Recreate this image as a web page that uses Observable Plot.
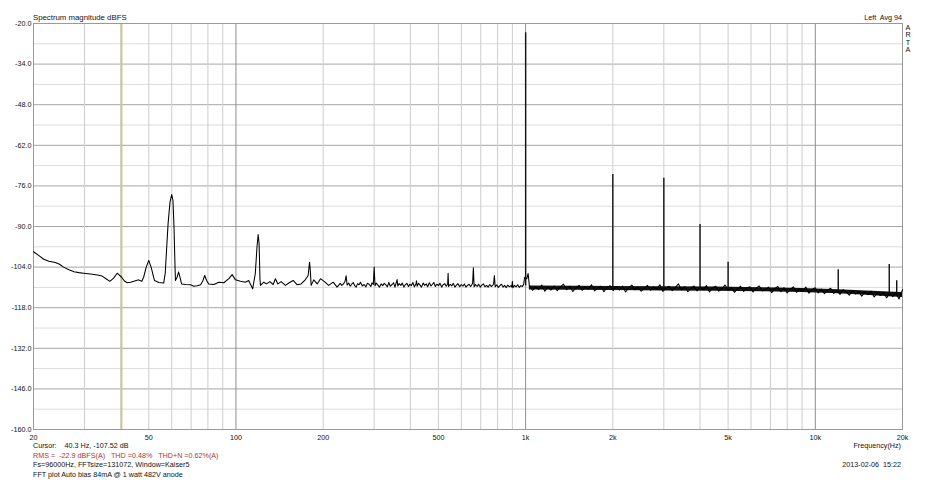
<!DOCTYPE html>
<html>
<head>
<meta charset="utf-8">
<script src="https://cdn.jsdelivr.net/npm/d3@7"></script>
<script src="https://cdn.jsdelivr.net/npm/@observablehq/plot@0.6"></script>
<style>
  html, body { margin: 0; padding: 0; background: #fff; }
  #chart svg { display: block; }
</style>
</head>
<body>
<div id="chart"></div>
<script>
// ---- Data ----
const lowFreq = [20, 21.0, 21.7, 22.6, 23.8, 24.6, 25.4, 26.5, 27.6, 28.7, 29.8, 31.5, 33.2, 34.5, 35.6, 36.7, 37.8, 38.9, 40.3, 41.2,
  42.1, 43.3, 44.4, 45.3, 46.1, 47.3, 48.0, 49.0, 50.0, 51.0, 52.3, 54.2, 56.3, 57.0, 57.6, 58.3, 59.2, 60.0, 60.6, 61.1,
  61.5, 61.8, 62.6, 63.4, 64.2, 64.9, 67.0, 69.7, 71.5, 73.5, 75.5, 76.8, 78.0, 79.2, 80.5, 83.9, 87.3, 90.8, 94.5, 97.0,
  99.6, 103.6, 107.8, 110.6, 114.2, 116.6, 118.2, 119.3, 120.2, 121.0, 121.5, 124.7, 127.5, 130.9, 134.4, 136.8, 139.5, 143.2, 148.2, 152.2,
  157.6, 162.7, 167.9, 173.7, 177.5, 179.5, 180.5, 181.8, 185.6, 190.7, 195.8, 202, 209, 216.6, 223.4,
  229, 232, 235, 238, 240, 242, 245, 248, 251, 254, 257, 260, 263, 266, 269, 273, 277, 281, 284, 288,
  292, 295, 298, 300, 302, 305, 309, 313, 317, 321, 325, 329, 333, 337, 341, 346, 350, 354, 358, 360,
  362, 366, 371, 375, 380, 384, 389, 394, 398, 403, 408, 413, 418, 420, 422, 427, 432, 437, 443, 448,
  454, 459, 465, 471, 476, 482, 488, 494, 500, 506, 513, 519, 526, 532, 538, 540, 542, 549, 556, 563,
  570, 577, 584, 592, 599, 607, 614, 622, 630, 638, 646, 652, 656, 660, 664, 671, 680, 688, 697, 706,
  715, 724, 733, 742, 752, 761, 770, 775, 780, 785, 795, 805, 815, 825, 836, 846, 857, 868, 879, 890,
  896, 900, 904, 915, 927, 939, 951, 963, 975, 985, 992, 1010, 1020];
const lowDb = [-98.7, -100.2, -101.3, -102.0, -102.4, -103.0, -104.0, -104.9, -105.6, -105.9, -106.1, -106.4, -106.7, -107.1, -108.0, -108.9, -107.8, -106.1, -107.5, -108.8,
  -109.4, -109.2, -108.9, -108.6, -108.4, -108.9, -107.5, -104.0, -101.7, -104.2, -108.6, -109.3, -109.5, -106.0, -98.0, -89.0, -81.5, -79.0, -81.0, -90.0,
  -101.0, -108.6, -107.5, -105.7, -107.8, -109.8, -110.0, -110.1, -110.6, -110.4, -110.1, -108.8, -106.9, -108.6, -109.8, -110.0, -109.2, -109.4, -108.0, -106.6,
  -108.4, -108.9, -109.2, -108.6, -111.5, -106.3, -97.0, -92.8, -96.0, -108.0, -110.3, -109.2, -109.8, -109.0, -110.0, -108.0, -109.8, -109.0, -110.3, -109.5,
  -108.6, -110.1, -109.8, -108.3, -106.9, -102.3, -105.0, -110.3, -108.4, -109.8, -108.0, -109.0, -110.3, -109.2, -110.9,
  -109.6, -110.3, -109.8, -108.9, -107.0, -110.2, -109.5, -110.6, -109.9, -109.3, -110.4, -110.9, -109.7, -110.1, -109.2, -110.5, -110.0, -110.8, -109.6, -109.9,
  -110.7, -109.4, -110.0, -104.0, -110.4, -109.5, -110.2, -110.9, -109.8, -110.4, -109.6, -110.1, -110.8, -109.3, -110.6, -110.0, -109.4, -110.9, -109.2, -108.3,
  -110.5, -109.7, -110.3, -109.5, -110.9, -110.1, -109.6, -110.7, -109.9, -110.4, -109.3, -110.8, -109.8, -108.7, -110.6, -109.6, -110.2, -110.9, -109.5, -110.3,
  -109.8, -110.8, -109.4, -110.5, -110.0, -109.3, -110.7, -109.9, -110.4, -109.6, -110.9, -110.1, -109.7, -110.6, -109.8, -106.1, -110.7, -109.9, -110.5, -109.6,
  -110.9, -110.2, -109.7, -110.8, -110.0, -110.6, -109.8, -110.9, -110.3, -109.9, -110.7, -110.1, -109.6, -104.2, -110.8, -110.0, -110.7, -109.9, -110.9, -110.2,
  -109.8, -110.8, -110.3, -110.9, -110.0, -110.7, -110.2, -109.9, -106.9, -110.8, -110.1, -111.0, -110.4, -109.9, -110.9, -110.3, -111.1, -110.2, -110.8, -110.4,
  -110.9, -108.9, -111.1, -110.3, -110.8, -110.1, -111.0, -110.4, -110.7, -109.8, -107.5, -108.0, -106.2];

const highFreq = [1030, 1055, 1082, 1109, 1137, 1165, 1194, 1224, 1255, 1286, 1318, 1351, 1385, 1420, 1455, 1492, 1529, 1567, 1606, 1646,
  1688, 1730, 1773, 1817, 1863, 1909, 1957, 2006, 2056, 2108, 2160, 2214, 2270, 2327, 2385, 2444, 2505, 2568, 2632, 2698,
  2766, 2835, 2906, 2978, 3053, 3129, 3207, 3287, 3370, 3454, 3540, 3629, 3720, 3813, 3908, 4006, 4106, 4208, 4313, 4421,
  4532, 4645, 4761, 4880, 5002, 5127, 5256, 5387, 5522, 5660, 5801, 5946, 6095, 6247, 6404, 6564, 6728, 6896, 7068, 7245,
  7426, 7612, 7802, 7997, 8197, 8402, 8612, 8828, 9048, 9274, 9506, 9744, 9988, 10237, 10493, 10756, 11025, 11300, 11583, 11872,
  12169, 12473, 12785, 13105, 13432, 13768, 14112, 14465, 14827, 15197, 15577, 15967, 16366, 16775, 17194, 17624, 18065, 18516, 18979, 19454,
  20000];
const highDb = [-110.4, -112.0, -110.9, -111.7, -110.2, -112.3, -111.0, -111.9, -110.5, -112.1, -110.8, -109.9, -111.8, -110.6, -112.4, -111.2, -110.3, -112.0, -110.9, -111.6,
  -110.1, -112.2, -111.3, -110.6, -112.5, -111.0, -110.4, -112.1, -110.7, -111.9, -110.5, -112.6, -111.1, -110.2, -111.8, -110.9, -112.3, -111.4, -110.3, -112.0,
  -110.8, -111.7, -110.1, -112.4, -111.2, -110.6, -112.1, -111.0, -109.8, -111.9, -110.7, -112.5, -111.3, -110.5, -112.2, -110.9, -111.8, -110.4, -112.6, -111.1,
  -110.6, -112.3, -111.4, -110.2, -112.0, -111.0, -112.7, -111.5, -110.6, -112.4, -111.2, -110.8, -112.6, -111.3, -110.5, -112.2, -111.7, -110.9, -112.8, -111.4,
  -110.7, -112.5, -111.1, -112.9, -111.6, -110.8, -112.7, -111.5, -112.2, -110.9, -113.0, -111.7, -111.1, -112.9, -111.6, -113.2, -111.9, -111.3, -113.1, -112.0,
  -113.4, -111.8, -112.6, -113.7, -112.1, -113.3, -112.4, -114.0, -112.6, -113.5, -112.3, -114.3, -112.9, -113.8, -112.7, -114.6, -113.1, -114.2, -112.9, -115.0,
  -111.8];

// dense noise band above 1 kHz (upper / lower envelope)
const bandFreq = [1030, 1500, 2000, 3000, 4500, 6500, 9000, 12000, 15000, 18000, 20000];
const bandHi = [-110.5, -110.6, -110.7, -110.8, -110.9, -111.1, -111.4, -111.8, -112.2, -112.6, -112.8];
const bandLo = [-111.9, -112.0, -112.1, -112.2, -112.3, -112.5, -112.8, -113.2, -113.7, -114.2, -114.5];

// tone + harmonics
const spikeFreq = [1000, 2000, 3000, 4000, 5000, 12000, 18000, 19100];
const spikeDb   = [-23.2, -72.1, -73.4, -89.3, -102.3, -104.9, -103.1, -108.7];
const spikeBase = [-110.5, -111.2, -111.4, -111.5, -111.6, -112.3, -113.0, -113.2];

const cursorFreq = [40.3];

const xTickVals = [20, 50, 100, 200, 500, 1000, 2000, 5000, 10000, 20000];
const xTickLabels = ["20", "50", "100", "200", "500", "1k", "2k", "5k", "10k", "20k"];
const xMinor = [30, 40, 50, 60, 70, 80, 90, 200, 300, 400, 500, 600, 700, 800, 900,
  2000, 3000, 4000, 5000, 6000, 7000, 8000, 9000];
const xMajor = [100, 1000, 10000];
const yTickVals = [-20, -34, -48, -62, -76, -90, -104, -118, -132, -146, -160];
const yMinor = [-27, -41, -55, -69, -83, -97, -111, -125, -139, -153];

// ---- Build tables ----
const spectrum = lowFreq.map((f, i) => ({f, db: lowDb[i]}))
  .concat(highFreq.map((f, i) => ({f, db: highDb[i]})));
const band = bandFreq.map((f, i) => ({f, hi: bandHi[i], lo: bandLo[i]}));
const spikes = spikeFreq.map((f, i) => ({f, top: spikeDb[i], base: spikeBase[i]}));
const xLabels = xTickVals.map((f, i) => ({f, label: xTickLabels[i]}));

const FONT = "'Liberation Sans', Arial, sans-serif";
const FS = "7.2px";

const svg = Plot.plot({
  width: 934,
  height: 480,
  marginLeft: 33,
  marginRight: 32,
  marginTop: 23,
  marginBottom: 51,
  style: {fontFamily: FONT, fontSize: FS, background: "#fff", color: "#111"},
  x: {type: "log", domain: [20, 20000], axis: null},
  y: {domain: [-160, -20], axis: null},
  marks: [
    Plot.ruleY(yMinor, {stroke: "#dcdcdc", strokeWidth: 1}),
    Plot.ruleY(yTickVals, {stroke: "#a6a6a6", strokeWidth: 1}),
    Plot.ruleX(xMinor, {stroke: "#cdcdcd", strokeWidth: 1}),
    Plot.ruleX(xMajor, {stroke: "#8e8e8e", strokeWidth: 1}),
    Plot.ruleX(cursorFreq, {stroke: "#cccc55", strokeWidth: 1.5}),
    Plot.frame({stroke: "#9a9a9a"}),
    Plot.areaY(band, {x: "f", y1: "lo", y2: "hi", fill: "#111", curve: "linear"}),
    Plot.line(spectrum, {x: "f", y: "db", stroke: "#000", strokeWidth: 1.05}),
    Plot.ruleX(spikes, {x: "f", y1: "base", y2: "top", stroke: "#111", strokeWidth: 1.4}),
    Plot.axisY({ticks: yTickVals, tickFormat: d => d.toFixed(1), tickSize: 0, tickPadding: 2, label: null}),
    Plot.text(xLabels, {x: "f", text: "label", frameAnchor: "bottom", lineAnchor: "top", dy: 5, fill: "#111"})
  ]
});

const s = d3.select(svg);
function txt(x, y, str, anchor = "start", fill = "#111", size = FS) {
  s.append("text").attr("x", x).attr("y", y).attr("text-anchor", anchor)
    .attr("fill", fill).style("font-family", FONT).style("font-size", size)
    .style("white-space", "pre").attr("xml:space", "preserve").text(str);
}
txt(33, 20, "Spectrum magnitude dBFS", "start", "#111", "7.8px");
txt(902, 20, "Left  Avg 94", "end");
["A", "R", "T", "A"].forEach((c, i) => txt(908, 30 + i * 7.4, c, "middle"));
txt(33, 448, "Cursor:    40.3 Hz, -107.52 dB");
txt(33, 457.5, "RMS =  -22.9 dBFS(A)   THD =0.48%   THD+N =0.62%(A)", "start", "#a8383a");
txt(33, 467, "Fs=96000Hz, FFTsize=131072, Window=Kaiser5");
txt(33, 476.5, "FFT plot Auto bias 84mA @ 1 watt 482V anode");
txt(901, 448, "Frequency(Hz)", "end");
txt(901, 467, "2013-02-06  15:22", "end");

document.getElementById("chart").appendChild(svg);
</script>
</body>
</html>
